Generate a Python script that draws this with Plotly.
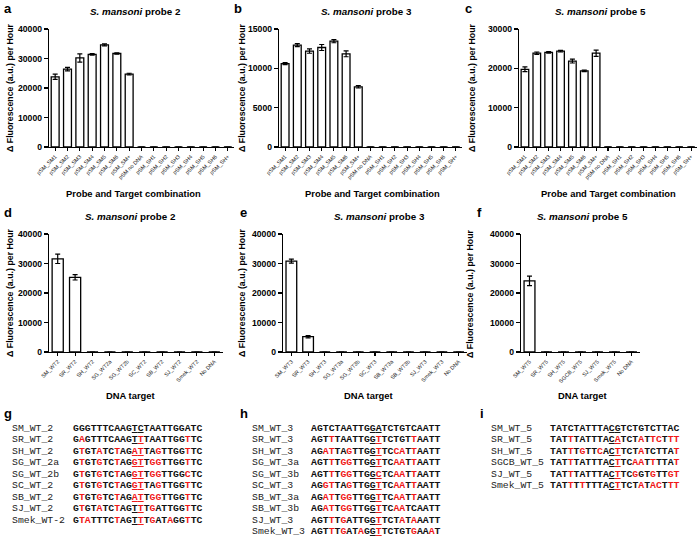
import plotly.graph_objects as go

W, H = 700, 540

# ---------------- data ----------------
cats_top = ["pSM_SM1", "pSM_SM2", "pSM_SM3", "pSM_SM4", "pSM_SM5", "pSM_SM6", "pSM_SM+",
            "pSM no DNA", "pSM_SH1", "pSM_SH2", "pSM_SH3", "pSM_SH4", "pSM_SH5", "pSM_SH6", "pSM_SH+"]
probe2_vals = [23800, 26400, 30200, 31400, 34600, 31700, 24700, 0, 0, 0, 0, 0, 0, 0, 0]
probe2_errs = [900, 600, 1400, 250, 350, 250, 300, 0, 0, 0, 0, 0, 0, 0, 0]
probe3_vals = [10600, 12950, 12200, 12650, 13450, 11850, 7650, 0, 0, 0, 0, 0, 0, 0, 0]
probe3_errs = [120, 180, 280, 380, 200, 380, 150, 0, 0, 0, 0, 0, 0, 0, 0]
probe5_vals = [19750, 23850, 24050, 24350, 21850, 19350, 23850, 0, 0, 0, 0, 0, 0, 0, 0]
probe5_errs = [600, 300, 200, 200, 500, 200, 800, 0, 0, 0, 0, 0, 0, 0, 0]

cats_wt2 = ["SM_WT2", "SR_WT2", "SH_WT2", "SG_WT2a", "SG_WT2b", "SC_WT2", "SB_WT2", "SJ_WT2",
            "Smek_WT2", "No DNA"]
wt2_vals = [31600, 25300, 0, 0, 0, 0, 0, 0, 0, 0]
wt2_errs = [1600, 900, 0, 0, 0, 0, 0, 0, 0, 0]

cats_wt3 = ["SM_WT3", "SR_WT3", "SH_WT3", "SG_WT3a", "SG_WT3b", "SC_WT3", "SB_WT3a", "SB_WT3b",
            "SJ_WT3", "Smek_WT3", "No DNA"]
wt3_vals = [30800, 5200, 0, 0, 0, 0, 0, 0, 0, 0, 0]
wt3_errs = [700, 400, 0, 0, 0, 0, 0, 0, 0, 0, 0]

cats_wt5 = ["SM_WT5", "SR_WT5", "SH_WT5", "SGCB_WT5", "SJ_WT5", "Smek_WT5", "No DNA"]
wt5_vals = [24100, 0, 0, 0, 0, 0, 0]
wt5_errs = [1600, 0, 0, 0, 0, 0, 0]

seq2_names = ["SM_WT_2", "SR_WT_2", "SH_WT_2", "SG_WT_2a", "SG_WT_2b", "SC_WT_2", "SB_WT_2",
              "SJ_WT_2", "Smek_WT-2"]
seq2_seqs = ["GGGTTTCAAGTCTAATTGGATC", "GAGTTTCAAGTTTAATTGGTTC", "GTGTATCTAGATTAGTTGGTTC",
             "GTGTGTCTAGGTTGGTTGGTTC", "GTGTGTCTAGGTTGGTTGGCTC", "GTGTGTCTAGGTTAGTTGGTTC",
             "GTGTGTCTAGATTGGTTGGTTC", "GTGTATCTAGTTTGATTGGTTC", "GTATTTCTAGTTTGATAGGTTC"]

seq3_names = ["SM_WT_3", "SR_WT_3", "SH_WT_3", "SG_WT_3a", "SG_WT_3b", "SC_WT_3", "SB_WT_3a",
              "SB_WT_3b", "SJ_WT_3", "Smek_WT_3"]
seq3_seqs = ["AGTCTAATTGGATCTGTCAATT", "AGTTTAATTGGTTCTGTTAATT", "AGATTAGTTGGTTCCATTAATT",
             "AGTTTGGTTGGTTCAATTAATT", "AGTTTGGTTGGCTCAATTAATT", "AGGTTAGTTGGTTCAATTAATT",
             "AGATTGGTTGGTTCAATTAATT", "AGATTGGTTGGTTCAATCAATT", "AGTTTGATTGGTTCTATAAATT",
             "AGTTTGATAGGTTCTGTGAAAT"]

seq5_names = ["SM_WT_5", "SR_WT_5", "SH_WT_5", "SGCB_WT_5", "SJ_WT_5", "Smek_WT_5"]
seq5_seqs = ["TATCTATTTACGTCTGTCTTAC", "TATTTATTTACATCTATTCTTT", "TATTTGTTCACTTCTATCTTAT",
             "TATTTATTTACTTCAATTTTAT", "TATTTATTTACTTCGGTGTTGT", "TATTTTTTTACTTCTATACTTT"]

# ---------------- styling ----------------
SANS = "Liberation Sans, Arial, sans-serif"
MONO = "Liberation Mono, Courier New, monospace"
RED = "#f01818"
UNDERLINE = (10, 11)

fig = go.Figure()

def px_x(v):
    return v / W

def px_y(v):
    return 1 - v / H

panels = [
    dict(cats=cats_top, vals=probe2_vals, errs=probe2_errs, ymax=40000, dtick=10000,
         x0=49, x1=234, top=29, bot=147, letter="a", lx=2, ly=8,
         title="<i>S. mansoni</i> probe 2", tx=135, ty=11,
         xt="Probe and Target combination", xtx=133, xty=193, ytx=10),
    dict(cats=cats_top, vals=probe3_vals, errs=probe3_errs, ymax=15000, dtick=5000,
         x0=279, x1=462, top=29, bot=147, letter="b", lx=232, ly=8,
         title="<i>S. mansoni</i> probe 3", tx=366, ty=11,
         xt="Probe and Target combination", xtx=373, xty=193, ytx=242),
    dict(cats=cats_top, vals=probe5_vals, errs=probe5_errs, ymax=30000, dtick=10000,
         x0=519, x1=697, top=29, bot=147, letter="c", lx=463, ly=8,
         title="<i>S. mansoni</i> probe 5", tx=600, ty=11,
         xt="Probe and Target combination", xtx=608, xty=193, ytx=472),
    dict(cats=cats_wt2, vals=wt2_vals, errs=wt2_errs, ymax=40000, dtick=10000,
         x0=49, x1=223, top=234, bot=352, letter="d", lx=2, ly=212,
         title="<i>S. mansoni</i> probe 2", tx=130, ty=216,
         xt="DNA target", xtx=130, xty=395, ytx=10),
    dict(cats=cats_wt3, vals=wt3_vals, errs=wt3_errs, ymax=40000, dtick=10000,
         x0=283, x1=467, top=234, bot=352, letter="e", lx=238, ly=212,
         title="<i>S. mansoni</i> probe 3", tx=380, ty=216,
         xt="DNA target", xtx=368, xty=395, ytx=242),
    dict(cats=cats_wt5, vals=wt5_vals, errs=wt5_errs, ymax=40000, dtick=10000,
         x0=521, x1=640, top=234, bot=352, letter="f", lx=475, ly=212,
         title="<i>S. mansoni</i> probe 5", tx=582, ty=216,
         xt="DNA target", xtx=582, xty=395, ytx=470),
]

annotations = []
layout_axes = {}
for i, p in enumerate(panels, start=1):
    sx = "" if i == 1 else str(i)
    fig.add_trace(go.Bar(
        x=p["cats"], y=p["vals"],
        error_y=dict(type="data", array=p["errs"], color="black", thickness=1.2, width=2.5),
        marker=dict(color="white", line=dict(color="black", width=1.3)),
        xaxis="x" + sx, yaxis="y" + sx, showlegend=False, hoverinfo="skip",
    ))
    layout_axes["xaxis" + sx] = dict(
        domain=[px_x(p["x0"]), px_x(p["x1"])], anchor="y" + sx,
        type="category", range=[-0.5, len(p["cats"]) - 0.5],
        showline=True, linecolor="black", linewidth=1.3,
        ticks="outside", ticklen=3, tickwidth=1.1, tickcolor="black",
        tickangle=-45, tickfont=dict(family=SANS, size=5.5, color="#222"),
        showgrid=False, zeroline=False, automargin=False, fixedrange=True,
    )
    ticks = list(range(0, p["ymax"] + 1, p["dtick"]))
    layout_axes["yaxis" + sx] = dict(
        domain=[px_y(p["bot"]), px_y(p["top"])], anchor="x" + sx,
        range=[0, p["ymax"]], tickvals=ticks, ticktext=[f"<b>{t}</b>" for t in ticks],
        showline=True, linecolor="black", linewidth=1.3,
        ticks="outside", ticklen=4, tickwidth=1.3, tickcolor="black",
        tickfont=dict(family=SANS, size=8.6, color="black"),
        showgrid=False, zeroline=False, automargin=False, fixedrange=True,
    )
    annotations.append(dict(text=f"<b>{p['letter']}</b>", x=px_x(p["lx"]), y=px_y(p["ly"]),
                            xref="paper", yref="paper", xanchor="left", yanchor="middle",
                            showarrow=False, font=dict(family=SANS, size=13, color="black")))
    annotations.append(dict(text=f"<b>{p['title']}</b>", x=px_x(p["tx"]), y=px_y(p["ty"]),
                            xref="paper", yref="paper", xanchor="center", yanchor="middle",
                            showarrow=False, font=dict(family=SANS, size=9.8, color="black")))
    annotations.append(dict(text=f"<b>{p['xt']}</b>", x=px_x(p["xtx"]), y=px_y(p["xty"]),
                            xref="paper", yref="paper", xanchor="center", yanchor="middle",
                            showarrow=False, font=dict(family=SANS, size=9.4, color="black")))
    yc = (p["top"] + p["bot"]) / 2
    annotations.append(dict(text="<b>\u0394 Fluorescence (a.u.) per Hour</b>", x=px_x(p["ytx"]),
                            y=px_y(yc), xref="paper", yref="paper", xanchor="center",
                            yanchor="middle", textangle=-90, showarrow=False,
                            font=dict(family=SANS, size=8.8, color="black")))


def markup(seq, ref):
    out = []
    for k, (c, r) in enumerate(zip(seq, ref)):
        st = []
        if c != r:
            st.append(f"color:{RED}")
        if k in UNDERLINE:
            st.append("text-decoration:underline")
        out.append(f"<span style='{';'.join(st)}'>{c}</span>" if st else c)
    return "".join(out)


seq_panels = [
    dict(names=seq2_names, seqs=seq2_seqs, letter="g", lx=2, nx=10, sx=71),
    dict(names=seq3_names, seqs=seq3_seqs, letter="h", lx=238, nx=250, sx=309),
    dict(names=seq5_names, seqs=seq5_seqs, letter="i", lx=478, nx=489, sx=548),
]
ROW0, ROWSTEP = 428, 11.5
for sp in seq_panels:
    annotations.append(dict(text=f"<b>{sp['letter']}</b>", x=px_x(sp["lx"]), y=px_y(413),
                            xref="paper", yref="paper", xanchor="left", yanchor="middle",
                            showarrow=False, font=dict(family=SANS, size=13, color="black")))
    ref = sp["seqs"][0]
    for r, (nm, sq) in enumerate(zip(sp["names"], sp["seqs"])):
        yy = px_y(ROW0 + r * ROWSTEP)
        annotations.append(dict(text=nm, x=px_x(sp["nx"]), y=yy, xref="paper", yref="paper",
                                xanchor="left", yanchor="middle", showarrow=False,
                                font=dict(family=MONO, size=9.8, color="#222")))
        annotations.append(dict(text="<b>" + markup(sq, ref) + "</b>", x=px_x(sp["sx"]), y=yy,
                                xref="paper", yref="paper", xanchor="left", yanchor="middle",
                                showarrow=False, font=dict(family=MONO, size=9.8, color="#111")))

fig.update_layout(
    width=W, height=H, autosize=False, template="none",
    margin=dict(l=0, r=0, t=0, b=0, pad=0),
    paper_bgcolor="white", plot_bgcolor="white",
    bargap=0.36, showlegend=False,
    annotations=annotations, **layout_axes,
)

fig.write_html("out.html", config={"displayModeBar": False, "staticPlot": True},
               post_script="document.body.style.margin='0';document.body.style.padding='0';")
